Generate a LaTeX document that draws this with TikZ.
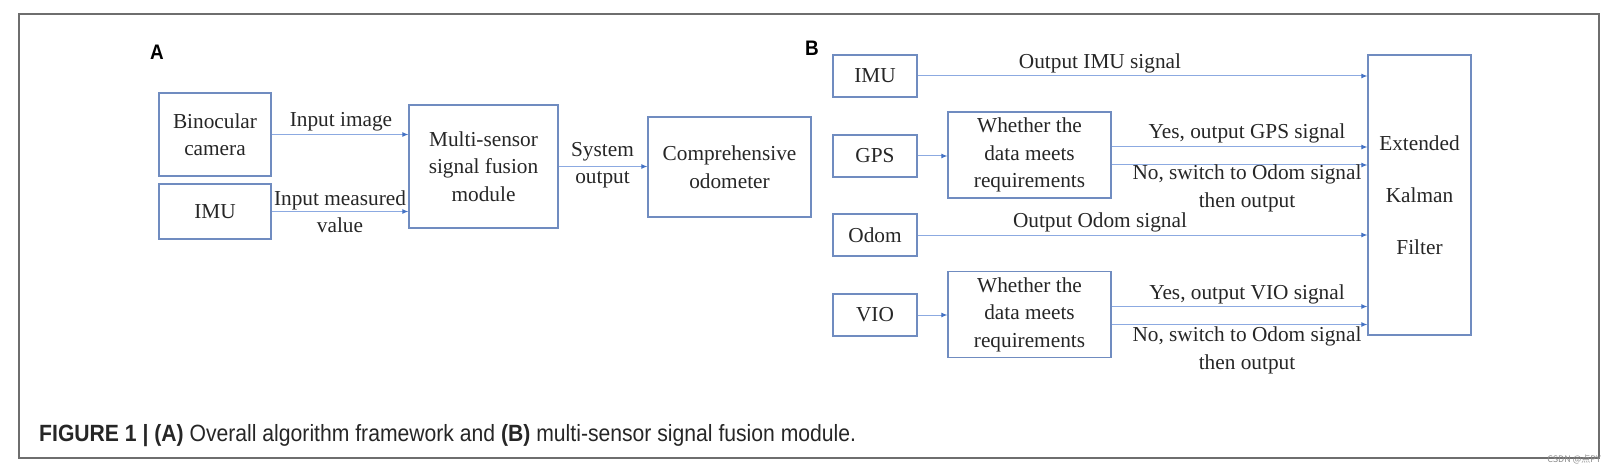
\documentclass[tikz,border=0pt]{standalone}
\usepackage{fontspec}
\setmainfont{Liberation Serif}
\newfontfamily\capfont[FakeStretch=0.9]{Liberation Sans}
\newfontfamily\cjkfont{Noto Sans CJK SC}
\usetikzlibrary{arrows.meta, calc, positioning}
\definecolor{boxblue}{RGB}{112,140,192}
\definecolor{lineblue}{RGB}{140,170,225}
\definecolor{headblue}{RGB}{68,114,196}
\definecolor{textgray}{RGB}{38,38,38}
\definecolor{framegray}{RGB}{110,110,110}

\begin{document}
\begin{tikzpicture}[x=1pt, y=-1pt, font=\fontsize{21.3}{27.5}\selectfont]
        \tikzstyle{block}=[draw=boxblue, line width=1.3pt, inner sep=0pt, align=center, text=textgray]
        \tikzstyle{flow}=[draw=lineblue, line width=1pt, -{Latex[length=6pt,width=5pt,color=headblue]}]
        \tikzstyle{tag}=[inner sep=0pt, align=center, text=textgray]
        \tikzstyle{panel}=[inner sep=0pt, font=\capfont\bfseries\fontsize{21}{21}\selectfont]

        % Canvas and outer frame
        \useasboundingbox (0,0) rectangle (1616,473);
        \draw[framegray, line width=1.5pt] (19,14) rectangle (1599,458);

        % Panel A: overall framework
        \node[panel] (lbl_a) at (157,52) {A};
        \node[block, minimum width=112, minimum height=83] (cam) at (215,134.5) {Binocular\\camera};
        \node[block, minimum width=112, minimum height=55] (imu_a) at (215,211.5) {IMU};
        \node[block, minimum width=149, minimum height=123] (fuse) at (483.5,166.5) {Multi-sensor\\signal fusion\\module};
        \node[block, minimum width=163, minimum height=100] (odo) at (729.5,167) {Comprehensive\\odometer};

        \draw[flow] (cam.east) -- (cam.east -| fuse.west);
        \draw[flow] (imu_a.east) -- (imu_a.east -| fuse.west);
        \draw[flow] (fuse.east) -- (fuse.east -| odo.west);

        \node[tag] (t_img) at (341,122) {Input image};
        \node[tag] (t_meas) at (340,211.5) {Input measured\\value};
        \node[tag] (t_sys) at (602.5,165) {System\\output};

        % Panel B: fusion module
        \node[panel] (lbl_b) at (812,48) {B};
        \node[block, minimum width=84, minimum height=42] (imu_b) at (875,76) {IMU};
        \node[block, minimum width=84, minimum height=42] (gps) at (875,156) {GPS};
        \node[block, minimum width=84, minimum height=42] (odom) at (875,235) {Odom};
        \node[block, minimum width=84, minimum height=42] (vio) at (875,315) {VIO};
        \node[block, minimum width=163, minimum height=86] (gps_chk) at (1029.5,155) {Whether the\\data meets\\requirements};
        \node[block, minimum width=163, minimum height=86] (vio_chk) at (1029.5,314.5) {Whether the\\data meets\\requirements};
        \node[block, minimum width=103, minimum height=280, font=\fontsize{21.3}{52}\selectfont] (ekf) at (1419.5,195) {Extended\\Kalman\\Filter};

        % Yes / no branches
        \coordinate (gps_yes) at ($(gps_chk.east)+(0,-8)$);
        \coordinate (gps_no) at ($(gps_chk.east)+(0,10)$);
        \coordinate (vio_yes) at ($(vio_chk.east)+(0,-8)$);
        \coordinate (vio_no) at ($(vio_chk.east)+(0,10)$);

        \draw[flow] (imu_b.east) -- (imu_b.east -| ekf.west);
        \draw[flow] (gps.east) -- (gps.east -| gps_chk.west);
        \draw[flow] (gps_yes) -- (gps_yes -| ekf.west);
        \draw[flow] (gps_no) -- (gps_no -| ekf.west);
        \draw[flow] (odom.east) -- (odom.east -| ekf.west);
        \draw[flow] (vio.east) -- (vio.east -| vio_chk.west);
        \draw[flow] (vio_yes) -- (vio_yes -| ekf.west);
        \draw[flow] (vio_no) -- (vio_no -| ekf.west);

        \node[tag] (t_imu) at (1100,63) {Output IMU signal};
        \node[tag] (t_gps_yes) at (1247,133) {Yes, output GPS signal};
        \node[tag] (t_gps_no) at (1247,188.5) {No, switch to Odom signal\\then output};
        \node[tag] (t_odom) at (1100,222) {Output Odom signal};
        \node[tag] (t_vio_yes) at (1247,294) {Yes, output VIO signal};
        \node[tag] (t_vio_no) at (1247,350.5) {No, switch to Odom signal\\then output};

        % Caption and watermark
        \node[anchor=base west, inner sep=0pt, text=textgray, font=\capfont\fontsize{23.5}{23.5}\selectfont] (caption) at (39,441)
            {\textbf{FIGURE 1 | (A)} Overall algorithm framework and \textbf{(B)} multi-sensor signal fusion module.};
        \node[anchor=east, inner sep=0pt, text=black!45, font=\cjkfont\fontsize{9}{9}\selectfont] (mark) at (1601,459) {CSDN @点PY};
    \end{tikzpicture}
\end{document}
